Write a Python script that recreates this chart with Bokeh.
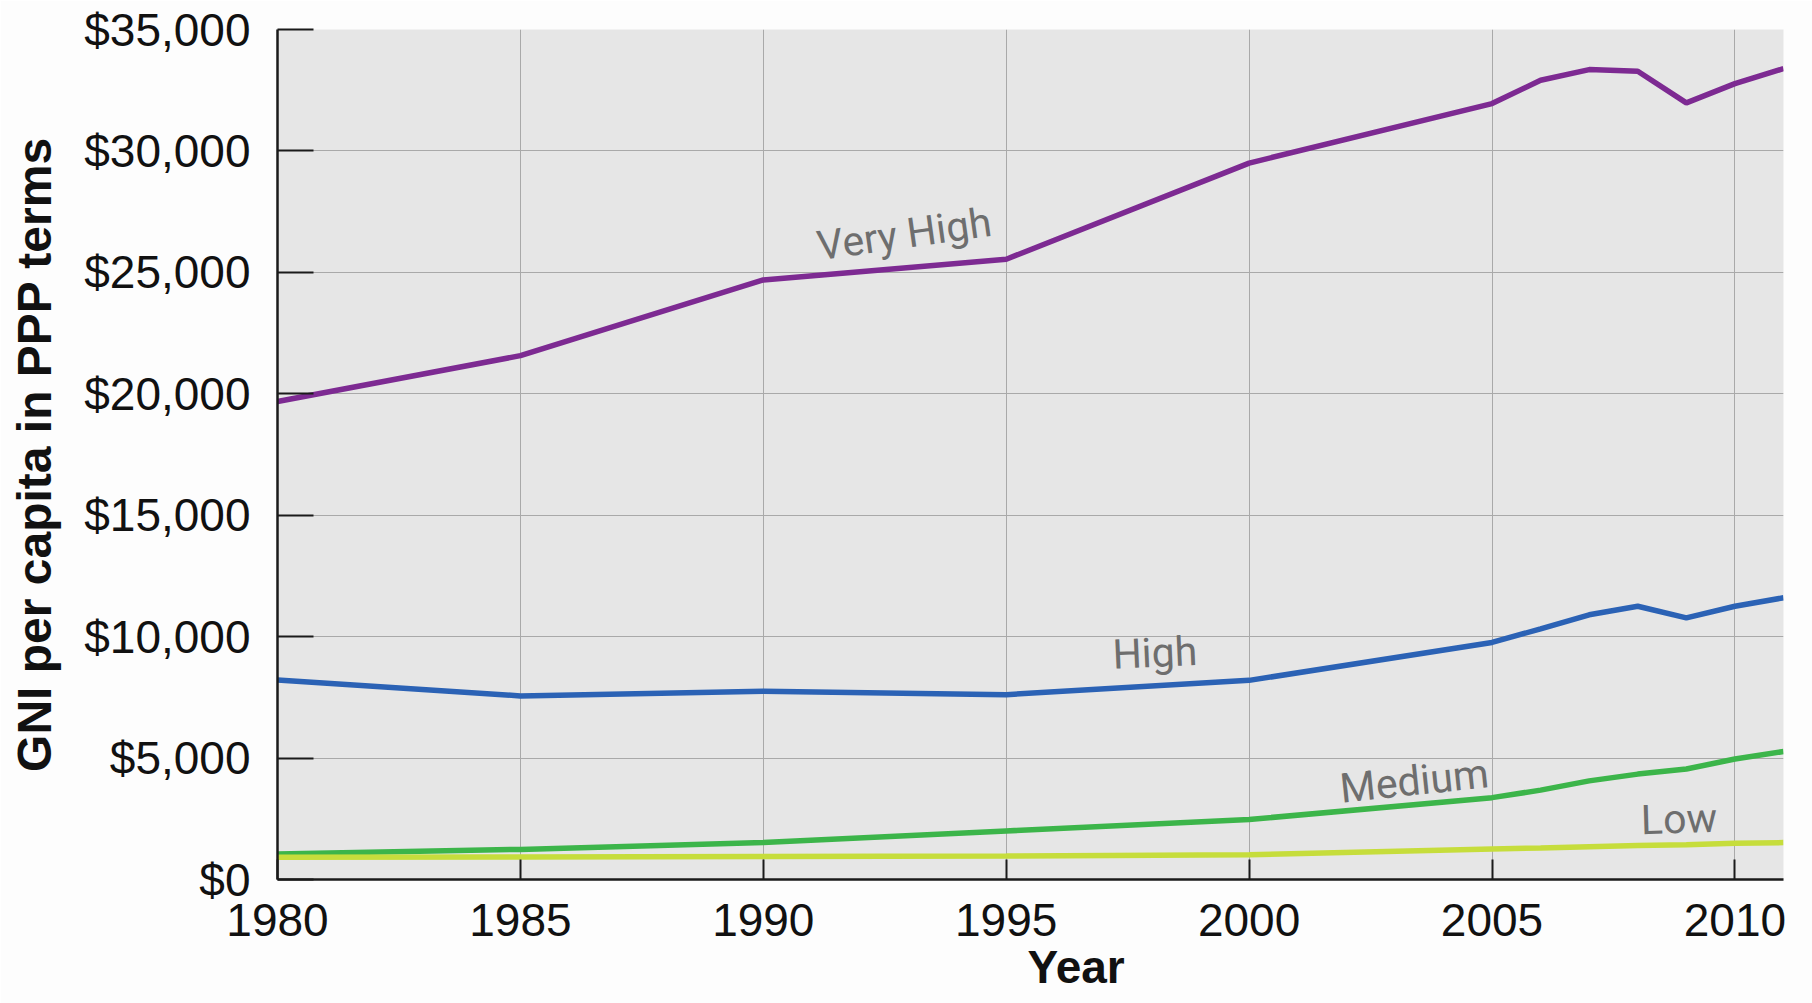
from bokeh.plotting import figure
from bokeh.models import Range1d, FixedTicker, NumeralTickFormatter, Label, Title
from bokeh.embed import file_html
from bokeh.resources import INLINE

years_5 = [1980, 1985, 1990, 1995, 2000]
years_annual = [2005, 2006, 2007, 2008, 2009, 2010, 2011]
years = years_5 + years_annual

very_high = [19680, 21570, 24690, 25540, 29500, 31950, 32910, 33350, 33280, 31980, 32770, 33390]
high = [8210, 7560, 7750, 7610, 8200, 9760, 10320, 10900, 11250, 10770, 11250, 11600]
medium = [1050, 1240, 1520, 2000, 2470, 3370, 3680, 4060, 4340, 4550, 4960, 5270]
low = [920, 930, 950, 970, 1020, 1260, 1300, 1350, 1400, 1430, 1490, 1520]

y_ticks = [0, 5000, 10000, 15000, 20000, 25000, 30000, 35000]
x_ticks = [1980, 1985, 1990, 1995, 2000, 2005, 2010]

series = [
    ("Very High", very_high, "#7d2a92"),
    ("High", high, "#2b62b5"),
    ("Medium", medium, "#3cb54a"),
    ("Low", low, "#c6dd3c"),
]

p = figure(width=1812, height=1003, output_backend="svg", toolbar_location=None,
           x_range=Range1d(1980, 2011), y_range=Range1d(0, 35000),
           min_border_left=277, min_border_right=29, min_border_top=29, min_border_bottom=124)

p.background_fill_color = "#e6e6e6"
p.border_fill_color = "#fdfdfd"
p.outline_line_color = None

for name, vals, color in series:
    p.line(years, vals, line_color=color, line_width=5.5)

# grid
p.xgrid.ticker = FixedTicker(ticks=x_ticks)
p.ygrid.ticker = FixedTicker(ticks=y_ticks)
for g in (p.xgrid, p.ygrid):
    g.grid_line_color = "#a9a9a9"
    g.grid_line_width = 1

# axes
p.xaxis.ticker = FixedTicker(ticks=x_ticks)
p.yaxis.ticker = FixedTicker(ticks=y_ticks)
p.yaxis.formatter = NumeralTickFormatter(format="$0,0")
for ax in (p.xaxis, p.yaxis):
    ax.axis_line_color = "#1a1a1a"
    ax.axis_line_width = 2.5
    ax.major_tick_line_color = "#1a1a1a"
    ax.major_tick_line_width = 2
    ax.major_tick_out = 0
    ax.minor_tick_line_color = None
    ax.major_label_text_font = "Liberation Sans"
    ax.major_label_text_font_size = "46px"
    ax.major_label_text_color = "#111111"
    ax.axis_label_text_font = "Liberation Sans"
    ax.axis_label_text_font_style = "bold"
    ax.axis_label_text_color = "#111111"

p.yaxis.major_tick_in = 36
p.xaxis.major_tick_in = 20
p.yaxis.major_label_standoff = 27
p.xaxis.major_label_standoff = 24
p.yaxis.axis_label = "GNI per capita in PPP terms"
p.yaxis.axis_label_text_font_size = "48px"
p.yaxis.axis_label_standoff = 20

# x axis title, placed right of centre as in the reference
p.add_layout(Title(text="Year", align="left", offset=750, standoff=0,
                   text_font="Liberation Sans", text_font_style="bold",
                   text_font_size="46px", text_color="#111111"), "below")

# series labels
label_specs = [
    ("Very High", 1992.9, 26575, 0.14),
    ("High", 1998.06, 9330, 0.045),
    ("Medium", 2003.4, 4060, 0.105),
    ("Low", 2008.85, 2490, 0.03),
]
for text, lx, ly, ang in label_specs:
    p.add_layout(Label(x=lx, y=ly, text=text, angle=ang,
                       text_font="Roboto", text_font_size="41px",
                       text_color="#6e6e6e", text_align="center",
                       text_baseline="middle"))

open("out.html", "w").write(file_html(p, INLINE))
